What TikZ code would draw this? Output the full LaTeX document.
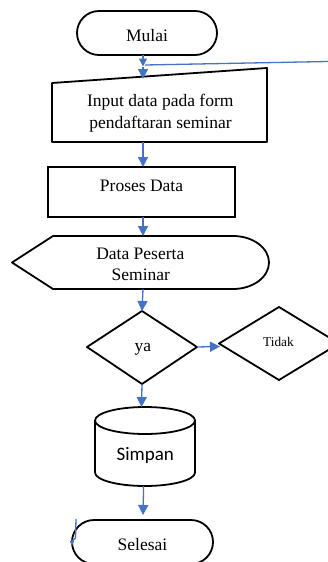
\documentclass[tikz,border=0pt]{standalone}
\usepackage{fontspec}
\setmainfont{Liberation Serif}
\newfontfamily\carlito{Carlito}
\usetikzlibrary{arrows.meta}
\definecolor{flowblue}{RGB}{68,114,196}
\tikzset{
  outline/.style={draw=black, line width=1.8pt, line join=round},
  txt/.style={inner sep=0pt, anchor=base, font=\fontsize{17.5}{21}\selectfont},
  smalltxt/.style={inner sep=0pt, anchor=base, font=\fontsize{13.3}{16}\selectfont},
  plain/.style={draw=flowblue, line width=1.3pt},
  flow/.style={plain, -{Triangle[length=10pt,width=10pt]}},
  flowsmall/.style={plain, -{Triangle[length=8pt,width=8pt]}},
  flowtiny/.style={plain, -{Triangle[length=5pt,width=4pt]}},
}
\begin{document}
\begin{tikzpicture}[x=1pt,y=-1pt]
\useasboundingbox (0,0) rectangle (328,562);
\fill[white] (0,0) rectangle (328,562);

% start terminal
\draw[outline, rounded corners=22pt] (77,11) rectangle (217,55);
\node[txt] (mulai) at (147,41.7) {Mulai};

% manual input
\draw[outline] (52,83) -- (267,68) -- (267,142) -- (52,142) -- cycle;
\node[txt] (inputA) at (160.3,106.7) {Input data pada form};
\node[txt] (inputB) at (160.5,128) {pendaftaran seminar};

% process
\draw[line width=1.1pt] (48,167) rectangle (235,217);
\node[txt] (proses) at (141.5,191) {Proses Data};

% display
\draw[outline] (53,289) -- (12,262.5) -- (53,236) -- (233,236)
  arc[start angle=-90, end angle=90, x radius=36, y radius=26.5] -- cycle;
\node[txt] (dataA) at (140.3,259) {Data Peserta};
\node[txt] (dataB) at (140.8,280) {Seminar};

% decisions
\draw[outline] (142,311) -- (197,347) -- (142,384) -- (87,347) -- cycle;
\node[txt] (ya) at (143,351.7) {ya};
\draw[outline] (279,307) -- (339,343.5) -- (279,380) -- (219,343.5) -- cycle;
\node[smalltxt] (tidak) at (278.5,346.7) {Tidak};

% storage
\draw[outline] (145,420.5) ellipse[x radius=50, y radius=13.5];
\draw[outline] (95,420.5) -- (95,472.5)
  arc[start angle=180, end angle=0, x radius=50, y radius=13.5] -- (195,420.5);
\node[txt, font=\carlito\fontsize{19}{23}\selectfont] (simpan) at (145.3,460) {Simpan};

% end terminal
\draw[outline, rounded corners=22pt] (72,520) rectangle (213,564);
\node[txt] (selesai) at (142.5,550.7) {Selesai};

% connector end points
\coordinate (mulaiS) at (143,55);
\coordinate (joinP) at (143,66.5);
\coordinate (inputN) at (143,79);
\coordinate (loopR) at (328,61.5);
\coordinate (loopL) at (145,65);
\coordinate (inputS) at (143,142);
\coordinate (prosesN) at (143,167);
\coordinate (prosesS) at (143,217);
\coordinate (dataN) at (143,236);
\coordinate (dataS) at (143,289);
\coordinate (yaN) at (142,311);
\coordinate (yaE) at (197,347);
\coordinate (tidakW) at (220,346.5);
\coordinate (yaS) at (142,384);
\coordinate (simpanN) at (141.5,407);
\coordinate (simpanS) at (143.5,486);
\coordinate (simpanK) at (143.5,492);
\coordinate (selesaiN) at (143,515);
\coordinate (strayA) at (76,519);
\coordinate (strayB) at (75.5,538);
\coordinate (strayC) at (72,541);
\coordinate (strayD) at (72,546);

% connectors
\draw[flowsmall] (mulaiS) -- (joinP);
\draw[flow] (joinP) -- (inputN);
\draw[plain] (loopR) -- (loopL);
\draw[flow] (inputS) -- (prosesN);
\draw[flow] (prosesS) -- (dataN);
\draw[flow] (dataS) -- (yaN);
\draw[flow] (yaE) -- (tidakW);
\draw[flow] (yaS) -- (simpanN);
\draw[flow] (simpanS) -- (simpanK) -- (selesaiN);
\draw[flowtiny] (strayA) -- (strayB) -- (strayC) -- (strayD);
\end{tikzpicture}
\end{document}
